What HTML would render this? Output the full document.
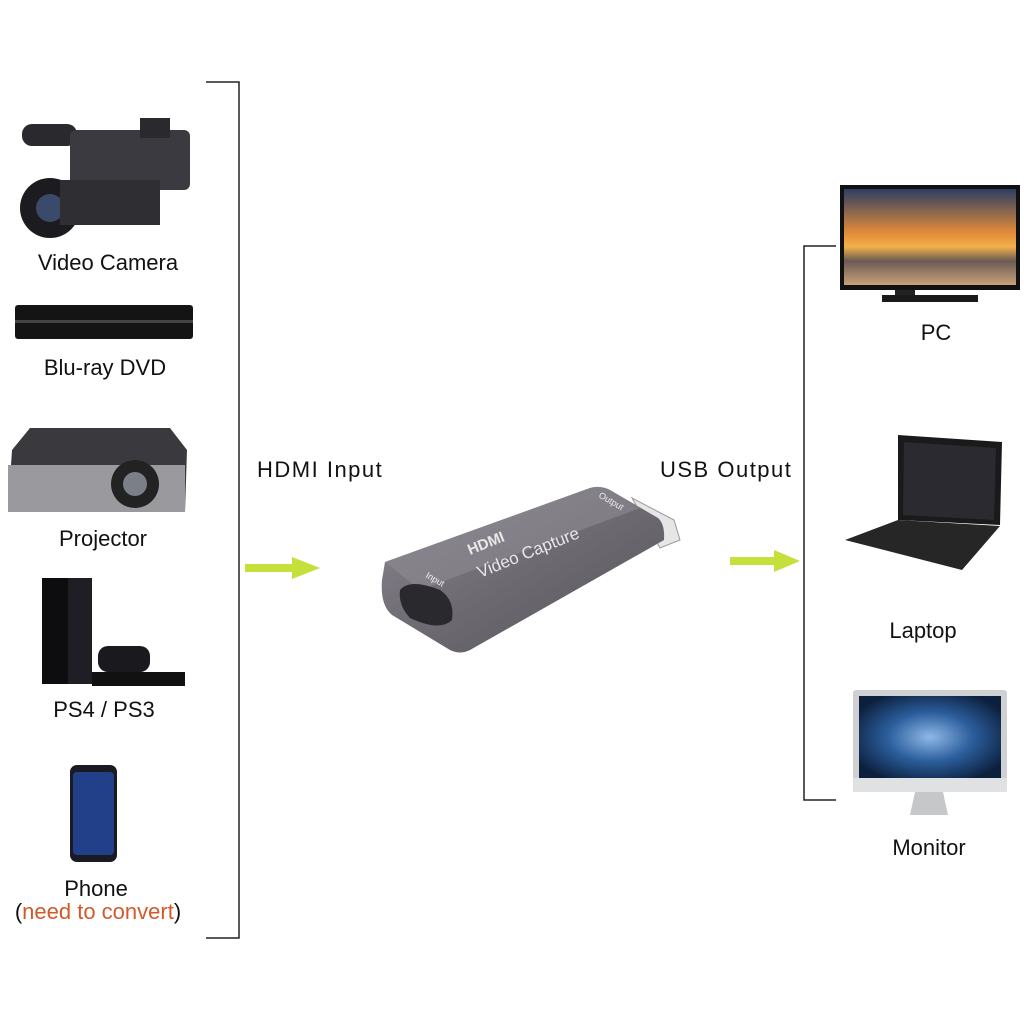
<!DOCTYPE html>
<html><head><meta charset="utf-8"><style>
html,body{margin:0;padding:0;background:#fff;}
svg{display:block;}
text{font-family:"Liberation Sans",sans-serif;font-size:22px;fill:#111;}
.big{letter-spacing:1.5px;}
</style></head><body>
<svg width="1024" height="1024" viewBox="0 0 1024 1024" xmlns="http://www.w3.org/2000/svg">
<defs>
<linearGradient id="sun" x1="0" y1="0" x2="0" y2="1">
<stop offset="0" stop-color="#2c3e63"/><stop offset="0.45" stop-color="#e08a3a"/><stop offset="0.6" stop-color="#f4b04a"/><stop offset="0.75" stop-color="#6a5a55"/><stop offset="1" stop-color="#c9a27a"/></linearGradient>
<linearGradient id="dev" x1="0" y1="0" x2="1" y2="1">
<stop offset="0" stop-color="#8a8790"/><stop offset="0.5" stop-color="#6d6a72"/><stop offset="1" stop-color="#55525a"/></linearGradient>
<radialGradient id="mac" cx="0.5" cy="0.5" r="0.6"><stop offset="0" stop-color="#8fb8e8"/><stop offset="0.5" stop-color="#2b5e9c"/><stop offset="1" stop-color="#0c1f3d"/></radialGradient>
</defs>
<polyline points="206,82 239,82 239,938 206,938" fill="none" stroke="#222" stroke-width="1.5"/>
<polyline points="836,246 804,246 804,800 836,800" fill="none" stroke="#222" stroke-width="1.5"/>
<rect x="22" y="124" width="55" height="22" rx="10" fill="#2a2a2e"/>
<rect x="70" y="130" width="120" height="60" rx="6" fill="#3a3a40"/>
<rect x="140" y="118" width="30" height="20" fill="#2a2a2e"/>
<circle cx="50" cy="208" r="30" fill="#1c1c20"/><circle cx="50" cy="208" r="14" fill="#3b4a6a"/>
<rect x="60" y="180" width="100" height="45" fill="#2e2e33"/>
<text x="108" y="270" text-anchor="middle">Video Camera</text>
<rect x="15" y="305" width="178" height="34" rx="3" fill="#141414"/>
<rect x="15" y="320" width="178" height="3" fill="#444"/>
<text x="105" y="375" text-anchor="middle">Blu-ray DVD</text>
<path d="M12,450 L30,428 L170,428 L187,450 L185,512 L8,512 Z" fill="#3a3a3e"/>
<rect x="8" y="465" width="177" height="47" fill="#9a9a9e"/>
<circle cx="135" cy="484" r="24" fill="#222"/><circle cx="135" cy="484" r="12" fill="#7a7f88"/>
<text x="103" y="546" text-anchor="middle">Projector</text>
<rect x="42" y="578" width="50" height="106" fill="#0d0d10"/>
<rect x="68" y="578" width="24" height="106" fill="#1e1e24"/>
<rect x="98" y="646" width="52" height="26" rx="10" fill="#1a1a1e"/>
<rect x="92" y="672" width="93" height="14" fill="#111"/>
<text x="104" y="717" text-anchor="middle">PS4 / PS3</text>
<rect x="70" y="765" width="47" height="97" rx="7" fill="#1a1a22"/>
<rect x="73" y="772" width="41" height="83" rx="4" fill="#22408a"/>
<text x="96" y="896" text-anchor="middle">Phone</text>
<text x="98" y="919" text-anchor="middle">(<tspan fill="#d4592a">need to convert</tspan>)</text>
<text x="257" y="477" class="big">HDMI Input</text>
<text x="660" y="477" class="big">USB Output</text>
<path d="M245,564 L292,564 L292,557 L320,568 L292,579 L292,572 L245,572 Z" fill="#c5e03a"/>
<path d="M730,557 L774,557 L774,550 L800,561 L774,572 L774,565 L730,565 Z" fill="#c5e03a"/>
<path d="M632,498 L674,520 L680,540 L660,548 Z" fill="#e6e6e6" stroke="#999"/>
<path d="M385,562 L590,488 Q600,485 610,490 L658,518 Q665,524 664,540 L470,650 Q460,655 450,650 L392,615 Q380,605 382,580 Z" fill="url(#dev)"/>
<path d="M385,562 L590,488 Q600,485 610,490 L640,508 L420,590 Z" fill="#8e8b93" opacity="0.6"/>
<path d="M400,590 Q410,578 440,590 Q455,600 452,620 Q440,632 410,618 Q398,605 400,590Z" fill="#2a2a2e"/>
<text x="470" y="555" transform="rotate(-22 470 555)" style="font-size:15px;font-weight:bold;fill:#e8e8e8">HDMI</text>
<text x="480" y="578" transform="rotate(-22 480 578)" style="font-size:17px;fill:#e8e8e8">Video Capture</text>
<text x="425" y="577" transform="rotate(30 425 577)" style="font-size:9px;fill:#eee">Input</text>
<text x="598" y="497" transform="rotate(30 598 497)" style="font-size:9px;fill:#eee">Output</text>
<rect x="840" y="185" width="180" height="105" fill="#111"/>
<rect x="844" y="189" width="172" height="96" fill="url(#sun)"/>
<rect x="895" y="290" width="20" height="6" fill="#222"/>
<rect x="882" y="295" width="96" height="7" fill="#1a1a1a"/>
<text x="936" y="340" text-anchor="middle">PC</text>
<path d="M898,435 L1002,442 L1000,525 L898,520 Z" fill="#1a1a1a"/>
<path d="M904,442 L996,448 L994,520 L903,515 Z" fill="#2a2a30"/>
<path d="M898,520 L1000,526 L962,570 L845,540 Z" fill="#262626"/>
<text x="923" y="638" text-anchor="middle">Laptop</text>
<rect x="853" y="690" width="154" height="102" rx="3" fill="#cfd0d2"/>
<rect x="859" y="696" width="142" height="82" fill="url(#mac)"/>
<rect x="853" y="778" width="154" height="14" fill="#e0e1e3"/>
<path d="M915,792 L943,792 L948,815 L910,815 Z" fill="#c6c7c9"/>
<text x="929" y="855" text-anchor="middle">Monitor</text>
</svg>
</body></html>
